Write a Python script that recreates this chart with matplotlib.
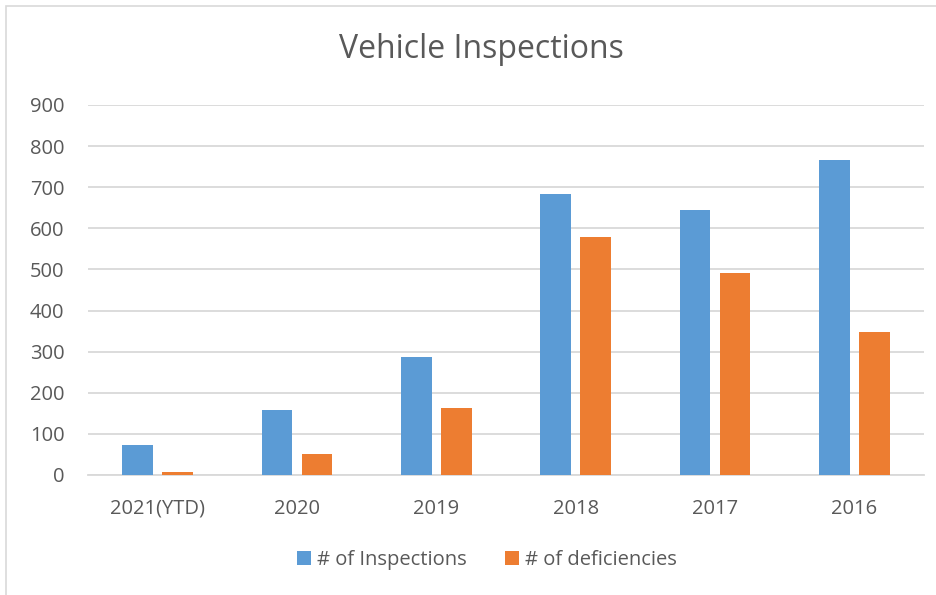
import matplotlib.pyplot as plt
import numpy as np
from matplotlib.patches import Rectangle

# data
years = ['2021(YTD)', '2020', '2019', '2018', '2017', '2016']
inspections = [73, 157, 286, 683, 644, 766]
deficiencies = [8, 51, 162, 578, 492, 348]

plt.rcParams['font.family'] = ['Open Sans', 'DejaVu Sans']
txt = '#595959'

fig = plt.figure(figsize=(9.36, 5.95), dpi=100)
ax = fig.add_axes([88/936, 120/595, 836/936, 370/595])

x = np.arange(len(years))
w = 0.22
ax.bar(x - 0.143, inspections, w, color='#5B9BD5', label='# of Inspections', zorder=3)
ax.bar(x + 0.143, deficiencies, w, color='#ED7D31', label='# of deficiencies', zorder=3)

ax.set_xlim(-0.5, len(years) - 0.5)
ax.set_ylim(0, 900)
ax.set_yticks(range(0, 901, 100))
ax.set_xticks(x)
ax.set_xticklabels(years)
ax.yaxis.grid(True, color='#D9D9D9', lw=1.3, zorder=0)
ax.tick_params(length=0, labelsize=14.5, colors=txt)
ax.tick_params(axis='x', pad=17)
ax.tick_params(axis='y', pad=17)
for s in ['top', 'right', 'left']:
    ax.spines[s].set_visible(False)
ax.spines['bottom'].set_color('#D9D9D9')
ax.spines['bottom'].set_linewidth(1.3)

fig.text(481/936, 1 - 50/595, 'Vehicle Inspections', ha='center', va='center',
         fontsize=23, color=txt)

leg = fig.legend(loc='center', bbox_to_anchor=(487/936, 1 - 560/595), ncol=2,
                 frameon=False, fontsize=14.5, handlelength=0.7, handleheight=0.7,
                 handletextpad=0.3, columnspacing=1.9)
for t in leg.get_texts():
    t.set_color(txt)

# chart area border (cropped on the right and bottom)
fig.patches.append(Rectangle((6/936, -0.1), 1.1, 1 - 6/595 + 0.1, transform=fig.transFigure,
                             fill=False, edgecolor='#D9D9D9', lw=1.2))

fig.savefig('out.png', dpi=100)
